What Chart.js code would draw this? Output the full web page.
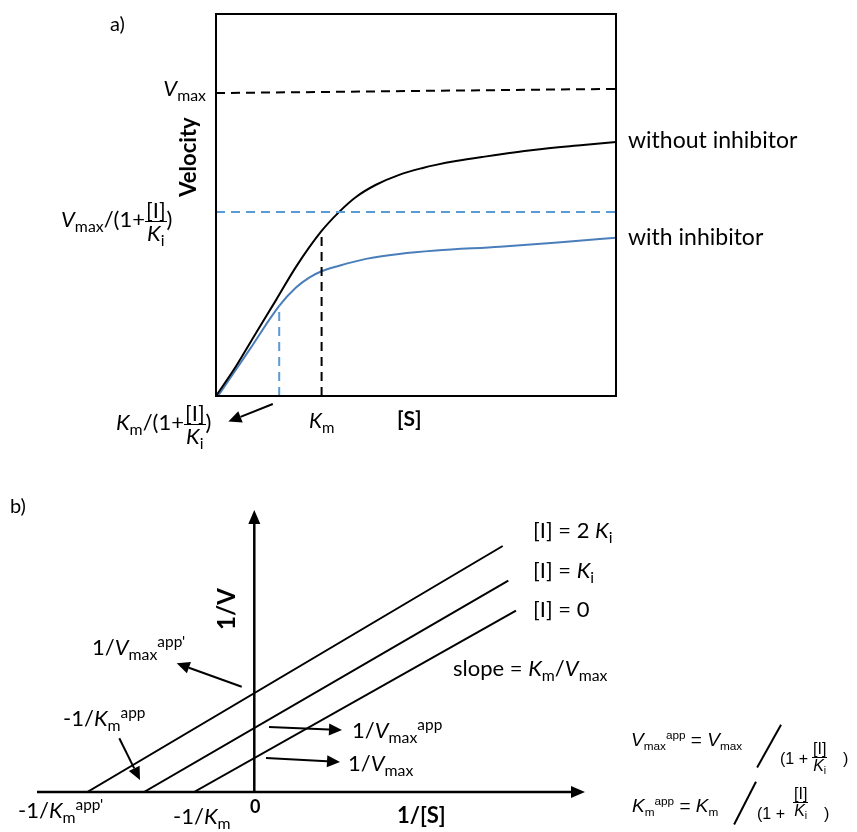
<!DOCTYPE html>
<html><head><meta charset="utf-8">
<script src="https://cdn.jsdelivr.net/npm/chart.js@4"></script>
<style>
html,body{margin:0;padding:0;background:#fff;}
#wrap{position:relative;width:857px;height:832px;overflow:hidden;font-family:'Lato',sans-serif;color:#000;}
canvas{position:absolute;left:0;}
.t{position:absolute;white-space:nowrap;line-height:1;font-size:22px;}
.i{font-style:italic}
.b{font-weight:bold}
.sub{font-size:0.72em;position:relative;top:0.3em}
.sup{font-size:0.7em;position:relative;top:-0.55em}
.frac{display:inline-flex;flex-direction:column;align-items:center;vertical-align:middle;}
.frac .num{border-bottom:1.5px solid #000;padding:0 1px;line-height:1.0}
.frac .den{line-height:1.0}
.rot{transform:translate(-50%,-50%) rotate(-90deg);}
.ar{font-family:'Liberation Sans',Arial,sans-serif;font-size:19px;}
.ar .sub{font-size:0.62em;top:0.35em}
.ar .sup{font-size:0.62em;top:-0.6em}
.fr{position:absolute;display:flex;flex-direction:column;align-items:center;font-family:'Liberation Sans',Arial,sans-serif;font-size:16px;line-height:1;}
.fr .num{border-bottom:1.5px solid #000;padding:0 1px;}
.fr .sub{font-size:0.65em;position:relative;top:0.3em}
.slash{position:absolute;width:0;border-left:2px solid #000;transform-origin:0 0;}
</style></head>
<body><div id="wrap">
<canvas id="ca" width="857" height="460" style="top:0"></canvas>
<canvas id="cb" width="857" height="372" style="top:460px"></canvas>

<!-- panel a labels -->
<div class="t" style="left:110px;top:13px;font-size:20px">a)</div>
<div class="t" style="right:651px;top:77px;font-size:22px"><span class="i">V</span><span class="sub">max</span></div>
<div class="t b rot" style="left:188px;top:157px;font-size:22px">Velocity</div>
<div class="t" style="left:628px;top:128px;font-size:23px">without inhibitor</div>
<div class="t" style="left:628px;top:225px;font-size:23px">with inhibitor</div>
<div class="t" style="left:61px;top:199px;font-size:22px"><span class="i">V</span><span class="sub">max</span>/(1+<span class="frac"><span class="num">[I]</span><span class="den"><span class="i">K</span><span class="sub">i</span></span></span>)</div>
<div class="t" style="left:116px;top:402px;font-size:22px"><span class="i">K</span><span class="sub">m</span>/(1+<span class="frac"><span class="num">[I]</span><span class="den"><span class="i">K</span><span class="sub">i</span></span></span>)</div>
<div class="t" style="left:309px;top:409px;font-size:21px"><span class="i">K</span><span class="sub">m</span></div>
<div class="t b" style="left:397px;top:407px;font-size:21px">[S]</div>

<!-- panel b labels -->
<div class="t" style="left:10px;top:495px;font-size:20px">b)</div>
<div class="t b rot" style="left:226px;top:609px;font-size:24px">1/V</div>
<div class="t" style="left:92px;top:636px">1/<span class="i">V</span><span class="sub">max</span><span class="sup">app'</span></div>
<div class="t" style="left:63px;top:707px">-1/<span class="i">K</span><span class="sub">m</span><span class="sup">app</span></div>
<div class="t" style="left:18px;top:799px">-1/<span class="i">K</span><span class="sub">m</span><span class="sup">app'</span></div>
<div class="t b" style="left:250px;top:797px;font-size:18px">0</div>
<div class="t" style="left:173px;top:805px">-1/<span class="i">K</span><span class="sub">m</span></div>
<div class="t b" style="left:397px;top:804px">1/[S]</div>
<div class="t" style="left:533px;top:519px">[I] = 2 <span class="i">K</span><span class="sub">i</span></div>
<div class="t" style="left:533px;top:559px">[I] = <span class="i">K</span><span class="sub">i</span></div>
<div class="t" style="left:533px;top:598px">[I] = 0</div>
<div class="t" style="left:453px;top:657px">slope = <span class="i">K</span><span class="sub">m</span>/<span class="i">V</span><span class="sub">max</span></div>
<div class="t" style="left:352px;top:719px">1/<span class="i">V</span><span class="sub">max</span><span class="sup">app</span></div>
<div class="t" style="left:348px;top:752px">1/<span class="i">V</span><span class="sub">max</span></div>

<!-- equations -->
<div class="t ar" style="left:631px;top:730px"><span class="i">V</span><span class="sub">max</span><span class="sup">app</span> = <span class="i">V</span><span class="sub">max</span></div>
<div class="slash" style="left:758px;top:768px;height:49px;transform:rotate(-150.8deg)"></div>
<div class="t ar" style="left:780px;top:751px;font-size:16px">(1 +</div>
<div class="fr" style="left:812px;top:741px"><span class="num">[I]</span><span class="den"><span class="i">K</span><span class="sub">i</span></span></div>
<div class="t ar" style="left:843px;top:751px;font-size:16px">)</div>

<div class="t ar" style="left:632px;top:796px"><span class="i">K</span><span class="sub">m</span><span class="sup">app</span> = <span class="i">K</span><span class="sub">m</span></div>
<div class="slash" style="left:735px;top:825px;height:48px;transform:rotate(-152.9deg)"></div>
<div class="t ar" style="left:757px;top:806px;font-size:16px">(1 +</div>
<div class="fr" style="left:793px;top:786px"><span class="num">[I]</span><span class="den"><span class="i">K</span><span class="sub">i</span></span></div>
<div class="t ar" style="left:824px;top:806px;font-size:16px">)</div>
</div>

<script>
// ---------- Panel a: Michaelis-Menten ----------
const sWithout = [0, 5, 10, 15, 20, 26.25, 30.8, 35, 40, 45.8, 51.7, 55, 60, 66.8, 79.3, 91.8, 100];
const vWithout = [0, 7.8, 16.5, 25.1, 33.8, 43.0, 48.2, 52.1, 55.3, 57.9, 59.7, 60.5, 61.5, 62.6, 64.4, 65.7, 66.5];
const sWith = [0.5, 8.3, 15.8, 20, 23.3, 26.25, 30.8, 37.5, 45.8, 55, 71, 87.7, 100];
const vWith = [0, 12.0, 23.6, 28.4, 31.0, 32.6, 34.1, 35.9, 37.2, 38.1, 39.1, 40.4, 41.4];
const vmaxS = [0, 100];
const vmaxV = [79.3, 80.4];
const vmaxInhV = [48.2, 48.2];
const Km = 26.4;
const KmApp = 15.8;
const vAtKm = 43.0;
const vAtKmApp = 23.8;
const arrowA = [[14.2, -2.1], [3.1, -6.7]];

// ---------- Panel b: Lineweaver-Burk ----------
const invS_I2 = [-16.7, 24.84];
const invV_I2 = [0, 24.6];
const invS_I1 = [-11.03, 25.4];
const invV_I1 = [0, 21.13];
const invS_I0 = [-6.03, 26.17];
const invV_I0 = [0, 18.13];
const arrowsB = [
  [[-1.26, 10.53], [-7.76, 12.87]],
  [[-13.5, 5.37], [-11.43, 1.2]],
  [[1.47, 6.5], [8.77, 6.2]],
  [[1.17, 3.4], [8.57, 3.0]]
];

const pts = (xs, ys) => xs.map((x, i) => ({x, y: ys[i]}));

function arrowPx(ctx, x1, y1, x2, y2, len, half, lw) {
  const a = Math.atan2(y2 - y1, x2 - x1);
  const bx = x2 - len * Math.cos(a), by = y2 - len * Math.sin(a);
  ctx.save();
  ctx.strokeStyle = '#000'; ctx.fillStyle = '#000'; ctx.lineWidth = lw;
  ctx.beginPath(); ctx.moveTo(x1, y1); ctx.lineTo(bx, by); ctx.stroke();
  ctx.beginPath();
  ctx.moveTo(x2, y2);
  ctx.lineTo(bx + half * Math.sin(a), by - half * Math.cos(a));
  ctx.lineTo(bx - half * Math.sin(a), by + half * Math.cos(a));
  ctx.closePath(); ctx.fill();
  ctx.restore();
}

const common = {
  responsive: false, animation: false,
  plugins: {legend: {display: false}, tooltip: {enabled: false}},
  elements: {point: {radius: 0}},
};

new Chart(document.getElementById('ca'), {
  type: 'line',
  data: {datasets: [
    {data: pts(vmaxS, vmaxV), borderColor: '#000', borderWidth: 2, borderDash: [9, 6]},
    {data: pts(vmaxS, vmaxInhV), borderColor: '#5b9bd5', borderWidth: 2, borderDash: [9, 6]},
    {data: pts([KmApp, KmApp], [0, vAtKmApp]), borderColor: '#5b9bd5', borderWidth: 2, borderDash: [9, 6]},
    {data: pts([Km, Km], [0, vAtKm]), borderColor: '#000', borderWidth: 2, borderDash: [9, 6]},
    {data: pts(sWithout, vWithout), borderColor: '#000', borderWidth: 2, cubicInterpolationMode: 'monotone'},
    {data: pts(sWith, vWith), borderColor: '#4a7ebb', borderWidth: 2, cubicInterpolationMode: 'monotone'},
  ]},
  options: Object.assign({}, common, {
    layout: {padding: {left: 216, right: 241, top: 14, bottom: 64}},
    scales: {
      x: {type: 'linear', min: 0, max: 100, display: false},
      y: {type: 'linear', min: 0, max: 100, display: false}
    }
  }),
  plugins: [{
    id: 'boxA',
    afterDraw(chart) {
      const {ctx, chartArea: ca, scales: {x, y}} = chart;
      ctx.save();
      ctx.strokeStyle = '#000'; ctx.lineWidth = 2;
      ctx.strokeRect(ca.left, ca.top, ca.right - ca.left, ca.bottom - ca.top);
      ctx.restore();
      const [t, h] = arrowA;
      arrowPx(ctx, x.getPixelForValue(t[0]), y.getPixelForValue(t[1]),
        x.getPixelForValue(h[0]), y.getPixelForValue(h[1]), 13, 6, 2);
    }
  }]
});

new Chart(document.getElementById('cb'), {
  type: 'line',
  data: {datasets: [
    {data: pts(invS_I2, invV_I2), borderColor: '#000', borderWidth: 2},
    {data: pts(invS_I1, invV_I1), borderColor: '#000', borderWidth: 2},
    {data: pts(invS_I0, invV_I0), borderColor: '#000', borderWidth: 2},
  ]},
  options: Object.assign({}, common, {
    layout: {padding: {left: 37, right: 272, top: 50, bottom: 40}},
    scales: {
      x: {type: 'linear', min: -21.73, max: 33.07, display: false},
      y: {type: 'linear', min: 0, max: 28.2, display: false}
    }
  }),
  plugins: [{
    id: 'axesB',
    afterDraw(chart) {
      const {ctx, scales: {x, y}} = chart;
      const x0 = x.getPixelForValue(0), y0 = y.getPixelForValue(0);
      arrowPx(ctx, x.getPixelForValue(x.min), y0, x.getPixelForValue(x.max), y0, 14, 6, 2.5);
      arrowPx(ctx, x0, y0, x0, y.getPixelForValue(y.max), 14, 6, 2.5);
      arrowsB.forEach(([t, h]) => arrowPx(ctx, x.getPixelForValue(t[0]), y.getPixelForValue(t[1]),
        x.getPixelForValue(h[0]), y.getPixelForValue(h[1]), 13, 6, 2));
    }
  }]
});
</script>
</body></html>
